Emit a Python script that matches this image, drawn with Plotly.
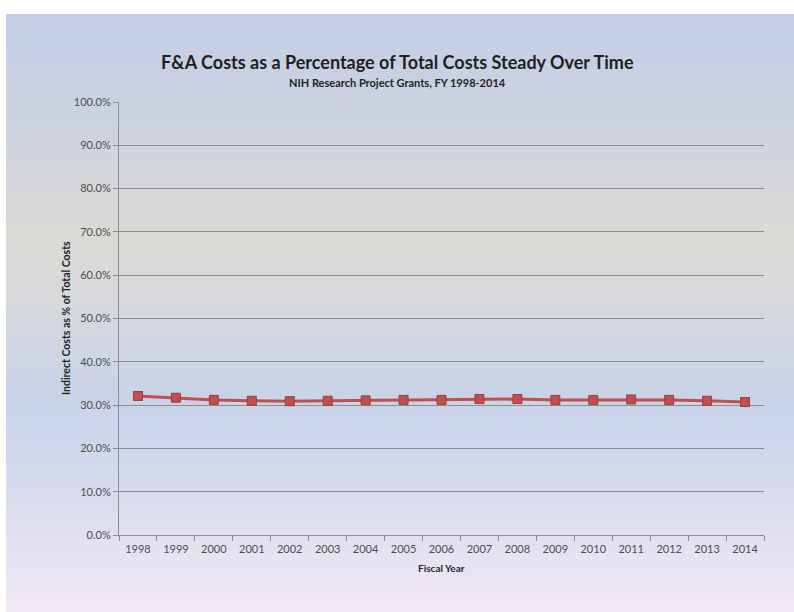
import plotly.graph_objects as go

# NIH research project grants: indirect (F&A) costs as share of total costs
years = [str(y) for y in range(1998, 2015)]
fa_share = [0.321, 0.317, 0.312, 0.310, 0.309, 0.310, 0.311, 0.312, 0.312,
            0.314, 0.314, 0.312, 0.312, 0.313, 0.312, 0.310, 0.307]

W, H = 794, 612
L, R, T, B = 119, 30, 102, 77
plot_w, plot_h = W - L - R, H - T - B

def px_to_paper_x(x):
    return (x - L) / plot_w

def px_to_paper_y(y):
    return (H - B - y) / plot_h

def hex_rgb(h):
    h = h.lstrip("#")
    return tuple(int(h[i:i + 2], 16) for i in (0, 2, 4))

# vertical background gradient of the slide panel (pixel y, colour)
stops = [(14, "#c3cee5"), (120, "#ccd2df"), (230, "#dad9d5"), (300, "#d7d9dc"),
         (400, "#c8d3e9"), (480, "#d5daed"), (560, "#e7e3f2"), (612, "#f1e9f6")]

def colour_at(y):
    for (y0, c0), (y1, c1) in zip(stops, stops[1:]):
        if y0 <= y <= y1:
            t = (y - y0) / (y1 - y0)
            a, b = hex_rgb(c0), hex_rgb(c1)
            return "rgb(%d,%d,%d)" % tuple(round(a[i] + (b[i] - a[i]) * t) for i in range(3))
    return stops[-1][1]

shapes = []
top, bottom, step = 14, 612, 4
y = top
while y < bottom:
    y2 = min(y + step, bottom)
    shapes.append(dict(type="rect", xref="paper", yref="paper", layer="below",
                       x0=px_to_paper_x(6), x1=px_to_paper_x(W),
                       y0=px_to_paper_y(y2 + 0.5), y1=px_to_paper_y(y),
                       fillcolor=colour_at((y + y2) / 2), line=dict(width=0)))
    y = y2

fig = go.Figure()
fig.add_trace(go.Scatter(
    x=years, y=fa_share, mode="lines+markers",
    line=dict(color="#c0504d", width=3),
    marker=dict(symbol="square", size=9, color="#c0504d",
                line=dict(color="#9c3d3a", width=1)),
    hoverinfo="x+y", showlegend=False,
))

font = "Lato, 'Open Sans', sans-serif"
fig.update_layout(
    width=W, height=H,
    margin=dict(l=L, r=R, t=T, b=B),
    paper_bgcolor="white", plot_bgcolor="rgba(0,0,0,0)",
    shapes=shapes,
    font=dict(family=font, color="#4d4d4d", size=11),
    annotations=[
        dict(text="<b>F&A Costs as a Percentage of Total Costs Steady Over Time</b>",
             xref="paper", yref="paper", x=px_to_paper_x(397), y=px_to_paper_y(62),
             xanchor="center", yanchor="middle", showarrow=False,
             font=dict(family=font, size=18, color="#1f1f1f")),
        dict(text="<b>NIH Research Project Grants, FY 1998-2014</b>",
             xref="paper", yref="paper", x=px_to_paper_x(397), y=px_to_paper_y(82),
             xanchor="center", yanchor="middle", showarrow=False,
             font=dict(family=font, size=11, color="#1f1f1f")),
        dict(text="<b>Fiscal Year</b>",
             xref="paper", yref="paper", x=px_to_paper_x(441), y=px_to_paper_y(568),
             xanchor="center", yanchor="middle", showarrow=False,
             font=dict(family=font, size=10, color="#1f1f1f")),
        dict(text="<b>Indirect Costs as % of Total Costs</b>", textangle=-90,
             xref="paper", yref="paper", x=px_to_paper_x(66), y=px_to_paper_y(318),
             xanchor="center", yanchor="middle", showarrow=False,
             font=dict(family=font, size=10.5, color="#1f1f1f")),
    ],
)

fig.update_xaxes(
    type="category", range=[-0.5, len(years) - 0.5], tickson="boundaries",
    ticks="outside", ticklen=5,
    tickcolor="#8c8c8c", showline=True, linecolor="#8c8c8c", linewidth=1,
    showgrid=False, tickfont=dict(size=11, color="#4d4d4d"), ticklabelstandoff=4,
)
fig.update_yaxes(
    range=[0, 1], dtick=0.1, tickformat=".1%", ticks="outside", ticklen=5,
    tickcolor="#8c8c8c", showline=True, linecolor="#8c8c8c", linewidth=1,
    showgrid=True, gridcolor="#8c8c8c", gridwidth=1, zeroline=False,
    tickfont=dict(size=11, color="#4d4d4d"),
)

fig.write_html("out.html")
